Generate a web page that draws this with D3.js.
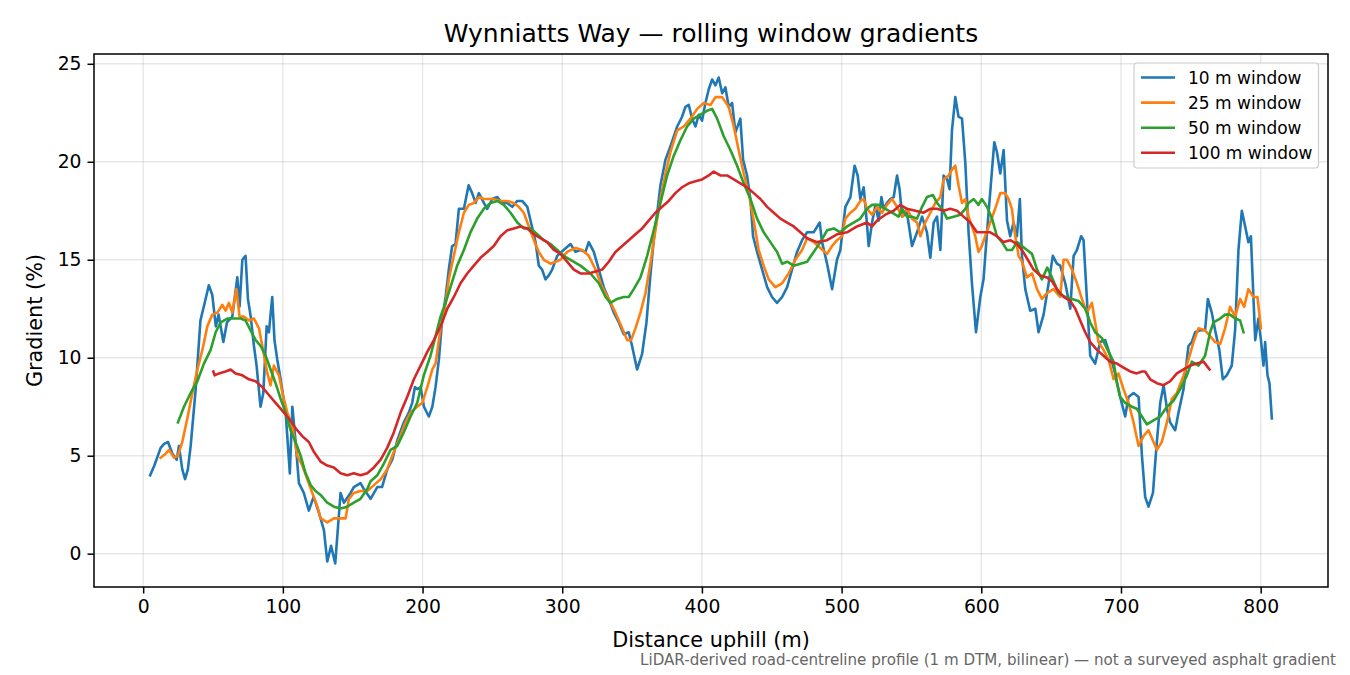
<!DOCTYPE html>
<html>
<head>
<meta charset="utf-8">
<script src="https://cdn.jsdelivr.net/npm/d3@7"></script>
<style>
  body { margin: 0; background: #fff; }
  svg { font-family: "DejaVu Sans", sans-serif; }
</style>
</head>
<body>
<div id="chart"></div>
<script>
//====================DATA===================
// [distance uphill (m), gradient (%)]

const xTicks = [0, 100, 200, 300, 400, 500, 600, 700, 800];
const yTicks = [0, 5, 10, 15, 20, 25];

const seriesNames = ['10 m window', '25 m window', '50 m window', '100 m window'];

const win10 = [
[5,4.0],[8,4.5],[12.5,5.4],[15,5.6],[17.8,5.7],[20.9,5.1],[24,4.8],[25.6,5.5],[28,4.3],[30,3.8],[32,4.3],[34,5.5],
[37.6,8.4],[41,11.9],[44.7,13.0],[47,13.7],[49.5,13.2],[52,11.6],[54,12.2],[57.4,10.8],[60,11.8],[63.8,12.1],
[67.4,14.1],[69,12.6],[71,15.0],[73.3,15.2],[75,13.0],[77,12.1],[79.3,10.6],[81.2,9.6],[84,7.5],[86,8.2],
[88.4,11.6],[90,11.3],[92.4,13.1],[94,10.9],[96,9.9],[98.4,8.9],[102,7.2],[105,4.1],[106.8,7.5],[109,5.8],
[111.5,3.6],[115,3.1],[118.6,2.2],[122,2.9],[125.8,2.1],[129.4,1.2],[131.8,-0.4],[134.5,0.4],[137.5,-0.5],
[141.3,3.1],[143.7,2.6],[148.5,3.1],[150.8,3.4],[155.6,3.6],[158,3.3],[162.8,2.8],[167.6,3.4],[171,3.4],
[174.7,4.3],[178.3,4.8],[182,5.8],[186.6,6.7],[190.2,7.2],[192.6,7.7],[194.5,8.5],[196.2,8.4],[198.6,8.5],
[201,7.5],[204.5,7.0],[207,7.5],[209.3,8.5],[211.7,9.9],[214,11.9],[216.5,13.1],[218.8,14.5],[221.2,15.7],
[223.6,15.8],[226,17.6],[229.6,17.6],[233,18.8],[235.5,18.4],[238,17.9],[240.3,18.4],[243.9,17.9],[246.3,17.6],
[249.9,18.1],[253.5,18.2],[257,17.9],[260.6,17.9],[264.2,17.7],[267.8,18.0],[271.3,18.0],[275,17.7],[277.3,17.0],
[280.9,15.9],[283.2,14.7],[285.6,14.5],[288,14.0],[290.4,14.2],[292.8,14.5],[296.4,15.2],[301,15.5],[305.9,15.8],
[309.5,15.4],[313,15.5],[316.6,15.4],[319,15.9],[322.6,15.4],[326.2,14.5],[329.7,13.6],[333.3,13.0],[336.9,12.3],
[340.5,11.8],[344,11.2],[347.6,11.3],[350,10.6],[353.6,9.4],[357.2,10.2],[360.3,11.8],[363.1,14.2],[365.5,16.0],
[368,17.4],[370.3,18.8],[373.9,20.1],[377.5,20.8],[382.3,21.8],[385.8,22.3],[388.2,22.8],[390.6,22.9],[393,22.2],
[395.4,21.8],[397.7,22.4],[400.1,22.1],[402.5,23.0],[404.9,23.7],[407.3,24.2],[409.7,23.9],[412,24.3],[414.5,23.5],
[416.8,23.8],[419.2,22.8],[421.6,23.0],[424,21.5],[427.5,22.2],[429.5,20.1],[432.3,19.3],[434.7,18.1],[436.6,16.2],
[439.5,15.4],[443.1,14.5],[446.7,13.6],[450.2,13.1],[453.8,12.8],[457.4,13.1],[461,13.6],[464.5,14.5],[468.1,15.4],
[471.7,16.0],[475.3,16.4],[480,16.4],[484.3,16.9],[486,15.9],[489.6,14.8],[493.2,13.5],[496.7,15.0],[499.1,15.5],
[502.7,17.7],[506.3,18.2],[509.3,19.8],[511.5,19.3],[513.4,18.1],[515.8,18.7],[517.7,17.2],[519.4,15.7],[521.8,16.9],
[524.2,17.8],[526.5,17.0],[528.5,18.2],[530.1,17.6],[532.5,17.9],[534.9,18.1],[537.3,18.2],[539.7,19.3],[541.5,18.6],
[543.3,17.2],[546.8,17.4],[550.4,15.7],[554,16.4],[557.6,17.2],[561.1,16.4],[563.5,15.1],[565.9,16.9],[568.3,17.2],
[570.7,15.5],[573,19.3],[575.5,19.1],[577.3,18.6],[579,21.6],[581.4,23.3],[583.7,22.3],[586.2,22.2],[588.6,19.9],
[590.9,16.4],[593.3,13.8],[596.2,11.3],[599.3,13.1],[601.6,14.0],[604.1,16.4],[606.9,18.9],[609.3,21.0],[611.2,20.5],
[613.6,19.4],[616,20.6],[618.4,17.0],[620.7,16.2],[623.1,16.9],[625.5,16.2],[627.6,18.1],[629.1,15.2],[631.5,13.5],
[635,12.4],[638.7,12.5],[641,11.3],[644.6,12.2],[648.2,13.8],[651.2,15.2],[654.1,14.8],[656.5,14.7],[660.1,13.8],
[663.7,12.5],[666.1,15.2],[668.5,15.5],[671.5,16.2],[673.2,16.0],[675.6,13.0],[678,10.1],[681.5,9.7],[685.1,10.8],
[688.7,10.9],[692.3,10.1],[695.8,9.2],[699.4,8.0],[703,7.0],[705.4,8.0],[709,8.2],[712.6,8.0],[715,5.0],[717.3,2.9],
[719.7,2.4],[722.9,3.1],[725.2,5.3],[728.1,7.7],[730.5,8.6],[732.9,7.4],[735.2,6.7],[738.8,6.3],[741.2,7.2],
[744.8,8.4],[748.3,10.6],[750.7,10.8],[753.1,11.3],[756.7,11.4],[760.2,11.4],[762.2,13.0],[765,12.3],[767.4,11.4],
[770.4,10.4],[772.9,8.9],[775.7,9.1],[779.3,9.6],[781.7,11.4],[784.1,15.5],[786.5,17.5],[788.9,16.7],[791.2,15.9],
[793,16.2],[794.1,14.3],[796.1,10.9],[798.4,12.0],[800.2,10.9],[802,9.6],[803.2,10.8],[804.9,9.1],[806.3,8.7],[808,6.9]
];

const win25 = [
[12.5,4.9],[16.1,5.1],[18.5,5.3],[22,4.9],[24.9,5.0],[28,5.7],[31.6,6.9],[35.2,8.2],[38.8,9.4],[42.4,10.4],
[45.9,11.6],[49.5,12.2],[53.1,12.3],[56.7,12.7],[59,12.4],[61.4,12.8],[63.8,12.3],[66.7,13.5],[69,12.1],[72.1,12.1],
[75.7,11.9],[79.3,12.0],[82.9,11.5],[85.3,10.6],[88.9,9.2],[91.2,8.6],[93.6,9.6],[97.2,9.1],[100.3,8.0],[103.2,7.2],
[106.8,6.5],[110.3,5.0],[113.9,4.5],[117.5,3.8],[121.1,3.1],[124.7,2.4],[127,1.8],[131.8,1.6],[136.5,1.8],[141.3,1.8],
[144.9,1.8],[147.3,2.8],[150.8,3.1],[155.6,3.2],[160.4,3.2],[165.2,3.5],[170,3.8],[174.7,4.3],[178.3,5.0],[183,5.8],
[187.8,6.7],[191.4,7.2],[196.2,7.5],[199.8,7.7],[203.4,8.5],[207,9.4],[209.3,9.7],[212.9,11.5],[215.2,12.1],
[218.8,14.0],[222.4,15.2],[226,16.4],[229.6,17.4],[233.1,17.8],[236.7,17.9],[240.3,18.2],[243.9,18.1],[247.4,18.1],
[251,18.1],[255.8,18.0],[260.6,18.0],[265.3,17.9],[268.9,17.7],[272.5,17.4],[276.1,16.7],[279.7,16.0],[283.2,15.4],
[286.8,15.0],[291.6,14.8],[295.2,14.9],[298.7,15.0],[303.5,15.4],[309.5,15.6],[314.3,15.5],[319,15.2],[323.8,14.5],
[328.6,13.6],[333.3,13.0],[338.1,12.3],[342.9,11.5],[346.5,10.9],[349.3,10.9],[352.4,11.5],[356,12.3],[359.6,13.3],
[363.1,14.8],[366.7,16.5],[370.3,18.1],[373.9,19.4],[377.5,20.5],[382.3,21.6],[387,21.8],[391.8,22.2],[396.6,22.7],
[401.3,23.0],[406.1,22.9],[409.7,23.3],[414.5,23.3],[419.2,22.8],[422.8,21.8],[426.3,20.6],[429.9,19.4],[433.5,18.4],
[437.1,17.0],[440.6,15.5],[444.2,14.7],[447.8,14.0],[452.6,13.6],[457.4,13.8],[462.1,14.3],[466.9,15.0],[471.7,15.5],
[475.3,16.1],[480,15.9],[484.8,15.6],[489.6,15.3],[493.2,15.7],[496.7,16.0],[500.3,16.2],[502.7,17.1],[506.3,17.4],
[509.8,17.6],[513.4,18.0],[515.8,18.1],[518.2,17.6],[521.8,17.3],[525.4,17.7],[528.9,17.4],[532.5,17.8],[536.1,18.1],
[539.7,17.7],[543.3,17.2],[546.8,17.6],[550.4,17.1],[554,16.9],[556.4,16.2],[559.9,16.9],[563.5,17.4],[567.1,17.9],
[570.7,18.2],[573,19.1],[576.6,19.3],[579,19.6],[581.4,19.8],[583.7,18.8],[586.2,17.9],[588.6,18.1],[590.9,17.2],
[593.3,16.7],[595.7,16.2],[598,15.4],[600.4,15.7],[602.8,16.2],[606.4,16.9],[609.9,17.6],[613.6,18.4],[617.1,18.4],
[619.5,18.1],[621.9,17.6],[624.3,16.2],[626.7,15.2],[629.1,14.9],[632.7,14.1],[636.3,14.3],[639.9,13.5],[643.4,13.0],
[647,13.3],[651.7,13.5],[656.5,13.1],[658.9,15.0],[661.3,15.0],[664.9,14.5],[668.5,13.8],[672,13.0],[675.6,12.3],
[679.2,12.8],[681.5,11.8],[683.9,10.8],[687.5,10.4],[691.1,9.9],[694.7,8.9],[698.2,9.2],[701.8,8.4],[705.4,7.7],
[709,6.7],[712.6,5.5],[716.1,6.0],[719.7,6.3],[723.3,5.7],[725.7,5.3],[729.2,5.7],[732.9,6.7],[736.4,7.9],[740,8.2],
[744.8,9.1],[748.3,9.9],[751.9,10.8],[755.5,11.5],[760.2,11.4],[763.8,11.1],[767.4,10.8],[771,10.7],[774.5,11.5],
[778.1,12.6],[781.7,12.1],[785.3,13.0],[788.2,12.6],[791.2,13.5],[794.8,13.1],[797.7,13.1],[800.2,11.5]
];

const win50 = [
[24.9,6.7],[29.2,7.5],[34,8.2],[38.8,8.8],[43.5,9.7],[48.3,10.4],[51.9,11.3],[55.5,11.8],[60.3,12.0],[65,12.0],
[69.8,12.0],[73.3,11.9],[76.9,11.4],[80.5,10.9],[84.1,10.6],[87.7,10.1],[91.2,9.4],[94.8,8.7],[98.4,7.9],[102,7.2],
[105.5,6.3],[109.1,5.7],[112.7,5.0],[116.3,4.1],[119.9,3.5],[123.4,3.2],[127,3.0],[131.8,2.6],[136.5,2.4],[141.3,2.3],
[146.1,2.4],[150.8,2.6],[155.6,2.8],[160.4,3.3],[162.8,3.7],[167.6,4.0],[172.3,4.6],[177.1,5.3],[181.9,5.5],[186.6,6.2],
[191.4,7.0],[196.2,7.7],[200.9,9.1],[205.7,10.1],[209.3,11.1],[212.9,12.1],[216.5,12.8],[220,13.6],[224.8,14.7],
[229.6,15.5],[234.3,16.4],[239.1,17.1],[243.9,17.6],[248.7,17.9],[253.5,18.0],[258.2,17.8],[263,17.4],[267.8,16.9],
[272.5,16.6],[277.3,16.6],[282.1,16.3],[286.8,16.0],[291.6,15.8],[296.4,15.5],[301.1,15.2],[305.9,15.0],[313,14.7],
[320.2,14.3],[326.2,13.8],[331,13.1],[334.5,12.8],[339.3,13.0],[344,13.1],[347.6,13.1],[351.2,13.5],[356,14.1],
[360.8,15.2],[365.5,16.5],[370.3,17.9],[375.1,19.3],[379.8,20.3],[384.6,21.1],[389.4,21.8],[394.1,22.2],[398.9,22.4],
[403.7,22.6],[407.3,22.7],[410.9,22.2],[415.6,21.3],[420.4,20.6],[425.2,19.8],[429.9,18.9],[434.7,18.1],[439.5,17.1],
[444.2,16.4],[449,15.9],[453.8,15.4],[457.4,14.8],[461,14.9],[465.7,14.7],[470.5,14.8],[475.3,14.9],[480,15.4],
[484.8,15.9],[489.6,16.5],[494.4,16.6],[499.1,16.4],[503.9,16.7],[508.6,16.9],[513.4,17.1],[518.2,17.6],[521.8,17.8],
[526.5,17.8],[531.3,17.6],[536.1,17.4],[540.8,17.2],[543.3,17.6],[546.8,17.2],[550.4,17.2],[554,17.1],[557.6,17.7],
[561.1,18.2],[565.4,18.3],[568.3,17.9],[571.9,17.6],[575.5,17.1],[580.2,17.2],[585,17.3],[588.6,17.6],[590.9,17.9],
[594.5,18.1],[598,17.8],[600.4,18.1],[604.1,17.7],[607.7,17.1],[611.2,16.2],[614.8,15.9],[618.4,15.5],[622,15.5],
[625.5,15.9],[629.1,15.7],[632.7,15.5],[636.3,15.3],[639.9,14.5],[643.4,14.0],[647.2,14.6],[650.6,14.1],[655.3,13.3],
[660.1,13.1],[664.9,13.0],[669.6,12.9],[674.4,12.5],[678,11.8],[681.5,11.3],[686.4,11.0],[691.1,10.3],[694.7,9.8],
[697.1,8.7],[699.4,8.0],[703,7.7],[707.8,7.5],[711.3,7.4],[715,7.0],[718.5,6.6],[723.3,6.8],[728.1,7.0],[732.9,7.5],
[737.6,7.8],[742.4,8.4],[747.2,9.1],[750.7,9.8],[755.5,9.6],[760.2,10.1],[763.8,11.3],[766.2,11.8],[771,12.0],
[774.5,12.2],[778.1,12.2],[781.7,12.0],[785.3,11.9],[787.7,11.3]
];

const win100 = [
[50.2,9.3],[51.2,9.1],[54.3,9.2],[59,9.3],[62.6,9.4],[66.2,9.2],[71,9.1],[75.7,8.9],[80.5,8.8],[85.3,8.5],[90,8.1],
[94.8,7.7],[99.6,7.3],[104.3,6.9],[109.1,6.4],[113.9,6.0],[118.6,5.7],[122.2,5.2],[127,4.7],[131.8,4.5],[136.5,4.4],
[141.3,4.1],[146.1,4.0],[150.8,4.1],[155.6,4.0],[160.4,4.1],[165.2,4.4],[170,4.8],[174.7,5.4],[179.5,6.2],[184.3,7.2],
[189,8.0],[193.8,8.9],[198.6,9.6],[203.4,10.3],[208.1,10.9],[212.9,11.6],[217.7,12.5],[222.4,13.1],[227.2,13.8],
[232,14.3],[236.7,14.7],[241.5,15.1],[246.3,15.4],[251,15.7],[255.8,16.2],[260.6,16.5],[265.3,16.6],[270.1,16.7],
[274.9,16.6],[279.7,16.3],[284.4,16.1],[289.2,15.9],[294,15.5],[298.7,15.3],[303.5,14.9],[308.3,14.5],[313,14.3],
[319,14.3],[323.8,14.4],[328.6,14.5],[333.3,14.9],[338.1,15.4],[342.9,15.7],[347.6,16.0],[352.4,16.3],[357.2,16.6],
[361.9,17.0],[366.7,17.4],[371.5,17.7],[376.2,18.0],[381,18.4],[385.8,18.7],[390.6,18.9],[395.4,19.0],[400.1,19.1],
[404.9,19.3],[408.4,19.5],[413.2,19.3],[418,19.3],[422.8,19.1],[427.5,18.9],[432.3,18.7],[437.1,18.4],[441.9,18.1],
[446.7,17.7],[451.4,17.4],[456.2,17.1],[461,16.9],[465.7,16.7],[470.5,16.4],[475.3,16.1],[482.4,15.9],[489.6,16.0],
[496.7,16.3],[503.9,16.4],[511,16.7],[518.2,16.9],[521.8,16.7],[525.4,17.0],[531.3,17.3],[537.3,17.5],[542,17.8],
[546.8,17.6],[552.8,17.5],[558.7,17.4],[563.5,17.6],[568.3,17.6],[573,17.5],[577.8,17.6],[582.6,17.5],[587.3,17.2],
[592.1,16.9],[596.9,16.4],[601.6,16.4],[606.4,16.4],[611.2,16.2],[616,15.9],[620.7,16.0],[625.5,15.8],[629.1,15.5],
[633.3,15.0],[637.4,14.5],[642.2,14.2],[647,14.1],[650.6,13.9],[654.1,13.5],[658.9,13.1],[663.7,12.9],[667.3,12.5],
[670.8,11.9],[674.4,11.3],[678,10.8],[682.8,10.4],[687.5,10.1],[692.3,9.8],[697.1,9.7],[701.8,9.5],[706.6,9.3],
[711.3,9.2],[715,9.3],[717.3,9.3],[720.9,8.9],[725.7,8.7],[730.5,8.6],[735.2,8.8],[740,9.2],[744.8,9.4],[749.6,9.6],
[754.3,9.7],[759.1,9.8],[763.4,9.4]
];

const seriesData = [win10, win25, win50, win100];
const colors = ['#1f77b4', '#ff7f0e', '#2ca02c', '#d62728'];

//====================STRUCTURE===================

const width = 1350;
const height = 675;

const margin = {top: 54, right: 22, bottom: 88, left: 94};

const innerW = width - margin.left - margin.right;
const innerH = height - margin.top - margin.bottom;

const svg = d3.select('#chart')
.append('svg')
.attr('width', width)
.attr('height', height)

const x = d3.scaleLinear()
.domain([-35.2, 848.2])
.range([0, innerW])

const y = d3.scaleLinear()
.domain([-1.7, 25.5])
.range([innerH, 0])

const g = svg.append('g')
.attr('transform', `translate(${margin.left},${margin.top})`)

svg.append('defs')
.append('clipPath')
.attr('id', 'plot-clip')
.append('rect')
.attr('width', innerW)
.attr('height', innerH)

//================GRID======================================

g.append('g')
.selectAll('line')
.data(xTicks)
.enter()
.append('line')
.attr('x1', d => x(d))
.attr('x2', d => x(d))
.attr('y1', 0)
.attr('y2', innerH)
.attr('stroke', '#b0b0b0')
.attr('stroke-opacity', 0.3)
.attr('stroke-width', 1.4)

g.append('g')
.selectAll('line')
.data(yTicks)
.enter()
.append('line')
.attr('x1', 0)
.attr('x2', innerW)
.attr('y1', d => y(d))
.attr('y2', d => y(d))
.attr('stroke', '#b0b0b0')
.attr('stroke-opacity', 0.3)
.attr('stroke-width', 1.4)

//================LINES======================================

const line = d3.line()
.x(d => x(d[0]))
.y(d => y(d[1]))

g.append('g')
.attr('clip-path', 'url(#plot-clip)')
.selectAll('path')
.data(seriesData)
.enter()
.append('path')
.attr('d', line)
.attr('fill', 'none')
.attr('stroke', (d, i) => colors[i])
.attr('stroke-width', 2.6)
.attr('stroke-linejoin', 'round')
.attr('stroke-linecap', 'square')

//================AXES======================================

const xAxis = g.append('g')
.attr('transform', `translate(0,${innerH})`)
.call(d3.axisBottom(x).tickValues(xTicks).tickSize(6.5).tickPadding(6))

const yAxis = g.append('g')
.call(d3.axisLeft(y).tickValues(yTicks).tickSize(6.5).tickPadding(6))

;[xAxis, yAxis].forEach(a => {
	a.select('.domain').remove()
	a.selectAll('.tick line').attr('stroke', '#000').attr('stroke-width', 1.5)
	a.selectAll('.tick text')
	.attr('fill', '#000')
	.style('font-family', '"DejaVu Sans", sans-serif')
	.style('font-size', '18.75px')
})

g.append('rect')
.attr('width', innerW)
.attr('height', innerH)
.attr('fill', 'none')
.attr('stroke', '#000')
.attr('stroke-width', 1.5)

//================LABELS======================================

svg.append('text')
.attr('x', margin.left + innerW / 2)
.attr('y', 41.5)
.attr('text-anchor', 'middle')
.style('font-size', '25px')
.text('Wynniatts Way — rolling window gradients')

svg.append('text')
.attr('x', margin.left + innerW / 2)
.attr('y', 647)
.attr('text-anchor', 'middle')
.style('font-size', '20.8px')
.text('Distance uphill (m)')

svg.append('text')
.attr('transform', `translate(42,${margin.top + innerH / 2}) rotate(-90)`)
.attr('text-anchor', 'middle')
.style('font-size', '20.8px')
.text('Gradient (%)')

svg.append('text')
.attr('x', 1336)
.attr('y', 665)
.attr('text-anchor', 'end')
.attr('fill', '#666')
.style('font-size', '15.1px')
.text('LiDAR-derived road-centreline profile (1 m DTM, bilinear) — not a surveyed asphalt gradient')

//================LEGEND======================================

const legend = svg.append('g')
.attr('transform', 'translate(1134,63)')

legend.append('rect')
.attr('width', 184.5)
.attr('height', 105)
.attr('rx', 3)
.attr('fill', '#fff')
.attr('fill-opacity', 0.8)
.attr('stroke', '#cccccc')
.attr('stroke-width', 1.2)

const items = legend.selectAll('.legend-item')
.data(seriesNames)
.enter()
.append('g')
.attr('class', 'legend-item')
.attr('transform', (d, i) => `translate(0,${14.5 + i * 25.1})`)

items.append('line')
.attr('x1', 7)
.attr('x2', 41)
.attr('stroke', (d, i) => colors[i])
.attr('stroke-width', 2.6)

items.append('text')
.attr('x', 54)
.attr('y', 6)
.style('font-size', '17px')
.text(d => d)

</script>
</body>
</html>
